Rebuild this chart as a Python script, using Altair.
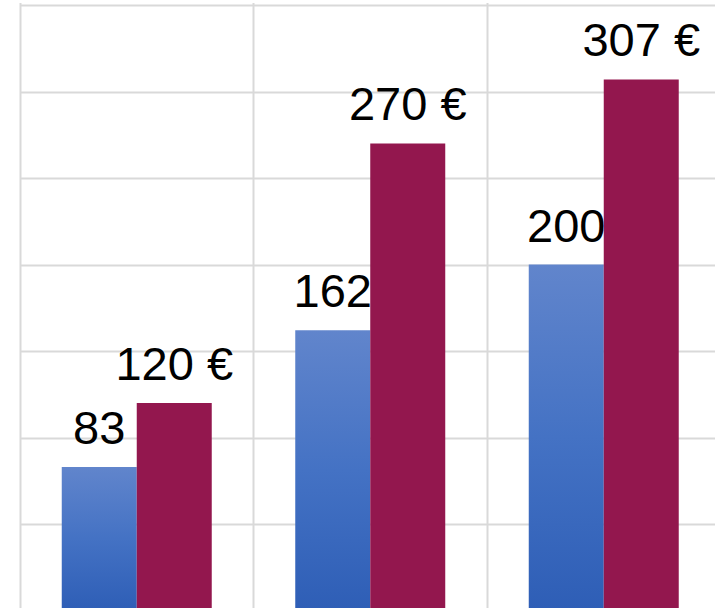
import altair as alt
import pandas as pd

categories = ["Catégorie 1", "Catégorie 2", "Catégorie 3"]
series = ["Série 1", "Série 2"]
values_s1 = [83, 162, 200]
values_s2 = [120, 270, 307]
labels_s1 = ["83", "162", "200"]
labels_s2 = ["120 €", "270 €", "307 €"]

rows = []
for c, v, l in zip(categories, values_s1, labels_s1):
    rows.append({"cat": c, "series": series[0], "value": v, "label": l})
for c, v, l in zip(categories, values_s2, labels_s2):
    rows.append({"cat": c, "series": series[1], "value": v, "label": l})
df = pd.DataFrame(rows)

x_enc = alt.X(
    "cat:N",
    sort=categories,
    scale=alt.Scale(domain=categories, range=[0, 700.5], paddingInner=0, paddingOuter=0),
    axis=alt.Axis(grid=True, bandPosition=0, labels=False, ticks=False, domain=False,
                  title=None, gridColor="#d9d9d9", gridWidth=2),
)
xo_enc = alt.XOffset(
    "series:N",
    scale=alt.Scale(domain=series, paddingInner=0, paddingOuter=0.5567),
)
y_enc = alt.Y(
    "value:Q",
    scale=alt.Scale(domain=[0, 350], range=[605.5, 0], nice=False, zero=True),
    axis=alt.Axis(values=[0, 50, 100, 150, 200, 250, 300, 350], grid=True, labels=False,
                  ticks=False, domain=False, title=None, gridColor="#d9d9d9", gridWidth=2),
)

base = alt.Chart(df)

blue_grad = alt.Gradient(
    gradient="linear",
    stops=[alt.GradientStop(color="#6185cc", offset=0),
           alt.GradientStop(color="#4472c4", offset=0.5),
           alt.GradientStop(color="#2e5eb6", offset=1)],
    x1=0, x2=0, y1=0, y2=1,
)

bars1 = base.transform_filter(alt.datum.series == series[0]).mark_bar(
    color=blue_grad
).encode(x=x_enc, xOffset=xo_enc, y=y_enc)

text1 = base.transform_filter(alt.datum.series == series[0]).mark_text(
    baseline="alphabetic", align="center", dy=-23, fontSize=47,
    font="Liberation Sans", color="#000000"
).encode(x=x_enc, xOffset=xo_enc, y=y_enc, text="label:N")

bars2 = base.transform_filter(alt.datum.series == series[1]).mark_bar(
    color="#93174e"
).encode(x=x_enc, xOffset=xo_enc, y=y_enc)

text2 = base.transform_filter(alt.datum.series == series[1]).mark_text(
    baseline="alphabetic", align="center", dy=-23, fontSize=47,
    font="Liberation Sans", color="#000000"
).encode(x=x_enc, xOffset=xo_enc, y=y_enc, text="label:N")

chart = alt.layer(bars1, text1, bars2, text2).properties(
    width=695,
    height=603,
    padding={"left": 20, "top": 5, "right": 0, "bottom": 0},
    autosize=alt.AutoSizeParams(type="none"),
).configure_view(stroke=None)

chart.save("out.html", embed_options={"renderer": "svg", "actions": False})
